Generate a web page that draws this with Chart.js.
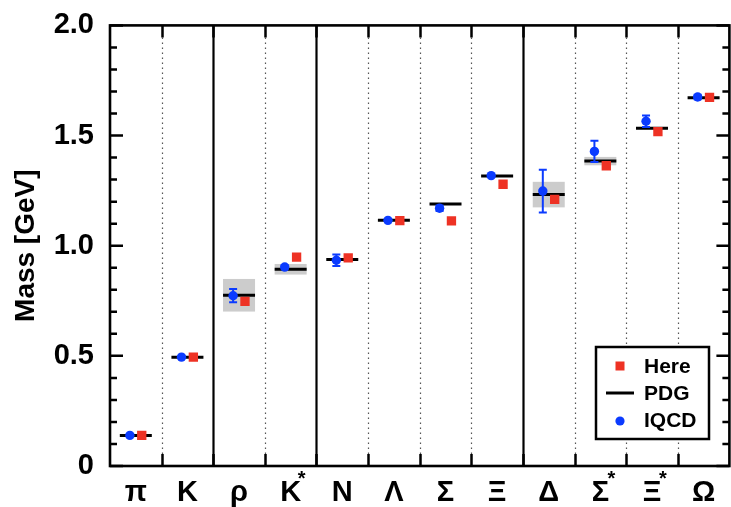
<!DOCTYPE html>
<html>
<head>
<meta charset="utf-8">
<script src="https://cdn.jsdelivr.net/npm/chart.js@4/dist/chart.umd.min.js"></script>
<style>
  html, body { margin: 0; padding: 0; background: #fff; overflow: hidden; }
  #wrap { width: 736px; height: 507px; }
</style>
</head>
<body>
<div id="wrap"><canvas id="massChart" width="736" height="507"></canvas></div>
<script>
// hadrons, left to right
const particles = ['π', 'K', 'ρ', 'K', 'N', 'Λ', 'Σ', 'Ξ', 'Δ', 'Σ', 'Ξ', 'Ω'];
const starred   = [false, false, false, true, false, false, false, false, false, true, true, false];
// PDG masses (GeV) and half-height of the grey width band
const pdgMass   = [0.139, 0.494, 0.775, 0.893, 0.937, 1.116, 1.189, 1.316, 1.232, 1.384, 1.533, 1.672];
const pdgBand   = [0, 0, 0.074, 0.024, 0, 0, 0, 0, 0.058, 0.019, 0, 0];
// this work
const hereMass  = [0.139, 0.494, 0.747, 0.948, 0.945, 1.114, 1.113, 1.279, 1.210, 1.363, 1.518, 1.673];
// lattice QCD with errors
const lqcdMass  = [0.139, 0.494, 0.773, 0.903, 0.934, 1.115, 1.170, 1.318, 1.248, 1.428, 1.565, 1.675];
const lqcdErr   = [0, 0, 0.030, 0.008, 0.026, 0.004, 0.012, 0, 0.097, 0.048, 0.026, 0.010];
// solid separators between meson / baryon groups
const groupEdges = [2, 4, 8];

const FONT = 'Liberation Sans, Arial, Helvetica, sans-serif';
const RED = '#ee3224';
const BLUE = '#0b3bff';
const HALF = 0.31;   // half width of PDG bar, in category units
const SHIFT = 0.115; // offset of the markers

const pdgLine = [];
particles.forEach((p, i) => {
    pdgLine.push({ x: i + 0.5 - HALF, y: pdgMass[i] });
    pdgLine.push({ x: i + 0.5 + HALF, y: pdgMass[i] });
    pdgLine.push({ x: i + 0.5 + HALF, y: null });
});

const framePlugin = {
    id: 'frame',
    beforeDatasetsDraw(chart) {
        const { ctx, chartArea: a, scales: { x, y } } = chart;
        ctx.save();
        // grey width bands
        ctx.fillStyle = '#cccccc';
        pdgBand.forEach((b, i) => {
            if (!b) return;
            const x0 = x.getPixelForValue(i + 0.5 - HALF), x1 = x.getPixelForValue(i + 0.5 + HALF);
            const y0 = y.getPixelForValue(pdgMass[i] + b), y1 = y.getPixelForValue(pdgMass[i] - b);
            ctx.fillRect(x0, y0, x1 - x0, y1 - y0);
        });
        // vertical lines between categories
        for (let k = 1; k < particles.length; k++) {
            const px = Math.round(x.getPixelForValue(k)) + 0.5;
            ctx.beginPath();
            if (groupEdges.includes(k)) {
                ctx.setLineDash([]);
                ctx.strokeStyle = '#000';
                ctx.lineWidth = 2.2;
                ctx.moveTo(px, a.top); ctx.lineTo(px, a.bottom);
            } else {
                ctx.setLineDash([1.5, 3.5]);
                ctx.strokeStyle = '#555';
                ctx.lineWidth = 1.2;
                ctx.moveTo(px, a.top + 12); ctx.lineTo(px, a.bottom - 12);
            }
            ctx.stroke();
            // ticks top and bottom
            ctx.setLineDash([]);
            ctx.strokeStyle = '#000';
            ctx.lineWidth = 2.5;
            ctx.beginPath();
            ctx.moveTo(px, a.top); ctx.lineTo(px, a.top + 12);
            ctx.moveTo(px, a.bottom); ctx.lineTo(px, a.bottom - 12);
            ctx.stroke();
        }
        // y ticks, inward on both sides
        ctx.lineWidth = 2.5;
        ctx.beginPath();
        for (let t = 0; t <= 20; t++) {
            const py = y.getPixelForValue(t / 10);
            const len = t % 5 === 0 ? 13 : 7;
            ctx.moveTo(a.left, py); ctx.lineTo(a.left + len, py);
            ctx.moveTo(a.right, py); ctx.lineTo(a.right - len, py);
        }
        ctx.stroke();
        // frame
        ctx.lineWidth = 2.6;
        ctx.strokeRect(a.left, a.top, a.right - a.left, a.bottom - a.top);
        ctx.restore();
    },
    afterDatasetsDraw(chart) {
        const { ctx, scales: { x, y } } = chart;
        ctx.save();
        // lQCD error bars
        ctx.strokeStyle = BLUE;
        ctx.lineWidth = 2;
        lqcdErr.forEach((e, i) => {
            if (e < 0.008) return;
            const px = x.getPixelForValue(i + 0.5 - SHIFT);
            const yt = y.getPixelForValue(lqcdMass[i] + e), yb = y.getPixelForValue(lqcdMass[i] - e);
            ctx.beginPath();
            ctx.moveTo(px, yt); ctx.lineTo(px, yb);
            ctx.moveTo(px - 4, yt); ctx.lineTo(px + 4, yt);
            ctx.moveTo(px - 4, yb); ctx.lineTo(px + 4, yb);
            ctx.stroke();
        });
        ctx.restore();
    },
    afterDraw(chart) {
        const { ctx, scales: { x } } = chart;
        ctx.save();
        // superscript stars on the resonance labels
        ctx.fillStyle = '#000';
        ctx.font = 'bold 20px ' + FONT;
        ctx.textAlign = 'center';
        ctx.textBaseline = 'alphabetic';
        starred.forEach((s, i) => {
            if (s) ctx.fillText('*', x.getPixelForValue(i + 0.5) + 11, 485);
        });
        // legend box
        const lx = 596, ly = 347, lw = 113, lh = 92;
        ctx.fillStyle = '#fff';
        ctx.fillRect(lx, ly, lw, lh);
        ctx.strokeStyle = '#000';
        ctx.lineWidth = 2.5;
        ctx.strokeRect(lx, ly, lw, lh);
        ctx.fillStyle = RED;
        ctx.fillRect(615.5, 361.5, 9, 9);
        ctx.lineWidth = 3;
        ctx.beginPath(); ctx.moveTo(606, 393); ctx.lineTo(634, 393); ctx.stroke();
        ctx.fillStyle = BLUE;
        ctx.beginPath(); ctx.arc(620, 421, 4.6, 0, Math.PI * 2); ctx.fill();
        ctx.fillStyle = '#000';
        ctx.font = 'bold 21px ' + FONT;
        ctx.textAlign = 'left';
        ctx.textBaseline = 'middle';
        ctx.fillText('Here', 644, 367);
        ctx.fillText('PDG', 644, 394);
        ctx.fillText('IQCD', 644, 421);
        ctx.restore();
    }
};

new Chart(document.getElementById('massChart'), {
    type: 'scatter',
    data: {
        datasets: [
            { label: 'Here', data: hereMass.map((v, i) => ({ x: i + 0.5 + SHIFT, y: v })),
              pointStyle: 'rect', pointRadius: 6.6, backgroundColor: RED, borderWidth: 0, order: 1 },
            { label: 'IQCD', data: lqcdMass.map((v, i) => ({ x: i + 0.5 - SHIFT, y: v })),
              pointStyle: 'circle', pointRadius: 4.7, backgroundColor: BLUE, borderWidth: 0, order: 2 },
            { label: 'PDG', type: 'line', data: pdgLine, borderColor: '#000', borderWidth: 3,
              pointRadius: 0, spanGaps: false, fill: false, order: 3 }
        ]
    },
    options: {
        responsive: false,
        animation: false,
        events: [],
        layout: { padding: { top: 21, left: 0, right: 0, bottom: 0 } },
        plugins: { legend: { display: false }, tooltip: { enabled: false } },
        scales: {
            x: {
                type: 'linear', min: 0, max: particles.length,
                grid: { display: false }, border: { display: false },
                afterBuildTicks(scale) { scale.ticks = particles.map((p, i) => ({ value: i + 0.5 })); },
                afterFit(scale) { scale.height = 41; },
                ticks: {
                    autoSkip: false, maxRotation: 0, padding: 2, color: '#000',
                    font: { family: FONT, size: 29, weight: 'bold' },
                    callback: (v, i) => particles[i]
                }
            },
            y: {
                min: 0, max: 2,
                grid: { display: false }, border: { display: false },
                afterFit(scale) { scale.width = 110; },
                ticks: {
                    stepSize: 0.5, padding: 8, color: '#000',
                    font: { family: FONT, size: 29, weight: 'bold' },
                    callback: v => v === 0 ? '0' : v.toFixed(1)
                },
                title: {
                    display: true, text: 'Mass [GeV]', color: '#000', padding: { top: 9, bottom: 0 },
                    font: { family: FONT, size: 28, weight: 'bold' }
                }
            }
        }
    },
    plugins: [framePlugin]
});
</script>
</body>
</html>
